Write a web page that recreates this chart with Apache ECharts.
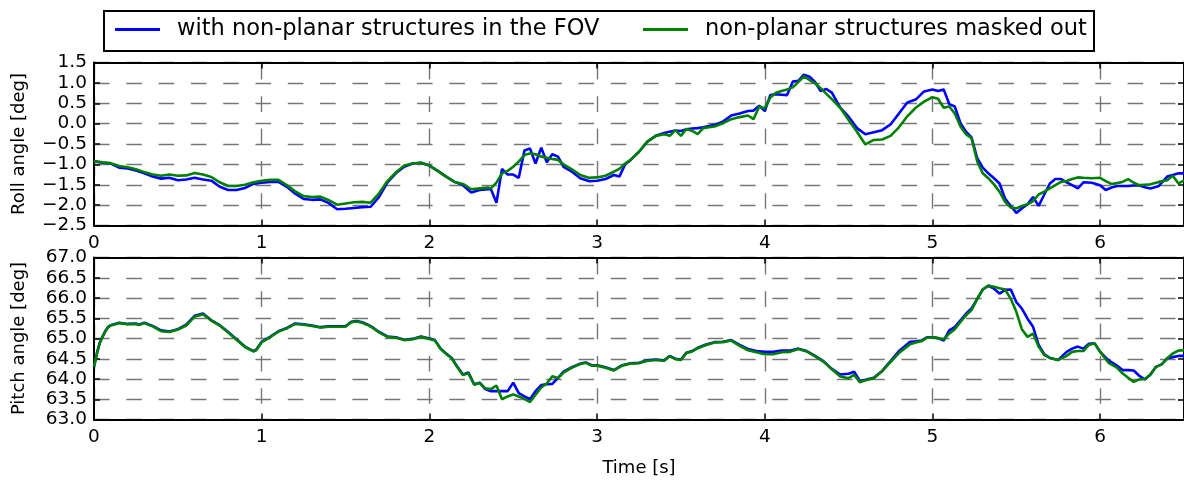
<!DOCTYPE html>
<html>
<head>
<meta charset="utf-8">
<script src="https://cdn.jsdelivr.net/npm/echarts@6/dist/echarts.min.js"></script>
<style>
  html, body { margin: 0; padding: 0; background: #fff; }
  #chart { width: 1184px; height: 481px; }
</style>
</head>
<body>
<div id="chart"></div>
<script>
// Roll angle over time, two processing variants [deg]
const rollTime = [0,0.05,0.1,0.15,0.2,0.25,0.3,0.35,0.4,0.45,0.5,0.55,0.6,0.65,0.7,0.75,0.8,0.85,0.9,0.95,1.0,1.05,1.1,1.15,1.2,1.25,1.3,1.35,1.4,1.45,1.5,1.55,1.6,1.65,1.7,1.75,1.8,1.85,1.9,1.95,2.0,2.05,2.1,2.15,2.2,2.25,2.3,2.35,2.367,2.4,2.433,2.467,2.5,2.533,2.567,2.6,2.633,2.667,2.7,2.733,2.767,2.8,2.85,2.9,2.95,3.0,3.05,3.1,3.133,3.167,3.2,3.25,3.3,3.35,3.4,3.433,3.467,3.5,3.533,3.567,3.6,3.633,3.667,3.7,3.75,3.8,3.85,3.9,3.933,3.967,4.0,4.033,4.067,4.1,4.133,4.167,4.2,4.233,4.267,4.3,4.333,4.367,4.4,4.45,4.5,4.55,4.6,4.65,4.7,4.75,4.8,4.85,4.9,4.95,5.0,5.033,5.067,5.1,5.133,5.167,5.2,5.233,5.267,5.3,5.333,5.367,5.4,5.433,5.467,5.5,5.533,5.567,5.6,5.633,5.667,5.7,5.733,5.767,5.8,5.833,5.867,5.9,5.95,6.0,6.033,6.067,6.1,6.133,6.167,6.2,6.233,6.267,6.3,6.35,6.4,6.433,6.467,6.5];
const rollWith = [-0.92,-0.96,-0.98,-1.08,-1.10,-1.15,-1.22,-1.30,-1.35,-1.33,-1.39,-1.37,-1.33,-1.37,-1.40,-1.55,-1.63,-1.63,-1.58,-1.48,-1.45,-1.43,-1.43,-1.55,-1.72,-1.85,-1.87,-1.86,-1.95,-2.10,-2.09,-2.07,-2.05,-2.04,-1.80,-1.44,-1.22,-1.06,-0.98,-0.96,-1.03,-1.16,-1.30,-1.43,-1.51,-1.69,-1.63,-1.61,-1.61,-1.94,-1.11,-1.25,-1.25,-1.33,-0.66,-0.61,-0.98,-0.59,-0.95,-0.75,-0.81,-1.06,-1.18,-1.34,-1.41,-1.40,-1.36,-1.26,-1.30,-1.00,-0.89,-0.69,-0.44,-0.30,-0.23,-0.20,-0.17,-0.18,-0.14,-0.12,-0.11,-0.09,-0.06,-0.03,0.05,0.20,0.25,0.31,0.32,0.44,0.31,0.70,0.72,0.71,0.70,1.03,1.05,1.20,1.15,1.02,0.80,0.85,0.76,0.39,0.17,-0.11,-0.26,-0.21,-0.16,-0.02,0.25,0.52,0.59,0.79,0.84,0.80,0.84,0.48,0.42,0.01,-0.20,-0.34,-0.85,-1.08,-1.22,-1.34,-1.47,-1.84,-2.02,-2.19,-2.08,-1.98,-1.80,-2.02,-1.74,-1.47,-1.36,-1.36,-1.44,-1.51,-1.59,-1.44,-1.45,-1.51,-1.63,-1.57,-1.53,-1.53,-1.53,-1.52,-1.52,-1.56,-1.59,-1.53,-1.30,-1.26,-1.22,-1.22];
const rollMasked = [-0.92,-0.95,-0.97,-1.04,-1.07,-1.12,-1.19,-1.25,-1.28,-1.25,-1.28,-1.27,-1.21,-1.25,-1.31,-1.44,-1.53,-1.53,-1.50,-1.44,-1.40,-1.38,-1.38,-1.51,-1.66,-1.78,-1.80,-1.79,-1.88,-1.99,-1.96,-1.93,-1.92,-1.94,-1.71,-1.41,-1.20,-1.03,-0.98,-0.96,-1.03,-1.16,-1.30,-1.43,-1.48,-1.61,-1.59,-1.57,-1.59,-1.45,-1.22,-1.16,-1.06,-0.93,-0.77,-0.73,-0.75,-0.81,-0.84,-0.87,-0.89,-1.00,-1.12,-1.26,-1.33,-1.32,-1.28,-1.18,-1.11,-0.98,-0.89,-0.69,-0.44,-0.30,-0.26,-0.30,-0.16,-0.30,-0.13,-0.18,-0.26,-0.11,-0.09,-0.07,0.01,0.11,0.16,0.20,0.11,0.42,0.38,0.64,0.76,0.80,0.84,0.89,1.02,1.16,1.07,0.99,0.87,0.73,0.60,0.39,0.09,-0.20,-0.51,-0.40,-0.39,-0.30,-0.09,0.18,0.39,0.54,0.65,0.61,0.39,0.42,0.25,-0.07,-0.26,-0.36,-0.93,-1.22,-1.34,-1.49,-1.67,-1.92,-2.06,-2.08,-2.02,-1.98,-1.90,-1.74,-1.67,-1.59,-1.51,-1.43,-1.41,-1.36,-1.32,-1.33,-1.34,-1.33,-1.41,-1.48,-1.46,-1.43,-1.36,-1.45,-1.51,-1.50,-1.49,-1.43,-1.39,-1.28,-1.47,-1.39];

// Pitch angle over time, two processing variants [deg]
const pitchTime = [0,0.017,0.033,0.05,0.067,0.083,0.1,0.15,0.2,0.25,0.267,0.3,0.35,0.4,0.45,0.5,0.55,0.6,0.65,0.7,0.75,0.8,0.85,0.9,0.95,0.967,1.0,1.05,1.1,1.15,1.2,1.25,1.3,1.35,1.4,1.45,1.5,1.533,1.567,1.6,1.633,1.667,1.7,1.75,1.8,1.85,1.9,1.95,2.0,2.033,2.067,2.1,2.133,2.167,2.2,2.233,2.267,2.3,2.333,2.367,2.4,2.433,2.467,2.5,2.533,2.567,2.6,2.633,2.667,2.7,2.733,2.767,2.8,2.85,2.9,2.933,2.967,3.0,3.05,3.1,3.15,3.2,3.25,3.3,3.35,3.4,3.433,3.467,3.5,3.533,3.567,3.6,3.65,3.7,3.75,3.8,3.85,3.9,3.95,4.0,4.05,4.1,4.15,4.2,4.25,4.3,4.35,4.4,4.45,4.5,4.533,4.567,4.6,4.65,4.7,4.75,4.8,4.833,4.867,4.9,4.933,4.967,5.0,5.033,5.067,5.1,5.133,5.167,5.2,5.233,5.267,5.3,5.333,5.367,5.4,5.433,5.467,5.5,5.533,5.567,5.6,5.633,5.667,5.7,5.75,5.8,5.833,5.867,5.9,5.933,5.967,6.0,6.05,6.1,6.133,6.167,6.2,6.233,6.267,6.3,6.333,6.367,6.4,6.433,6.467,6.5];
const pitchWith = [64.30,64.63,64.88,65.04,65.18,65.28,65.33,65.39,65.36,65.37,65.34,65.39,65.31,65.20,65.17,65.23,65.34,65.56,65.62,65.45,65.33,65.16,64.98,64.80,64.69,64.72,64.92,65.04,65.18,65.26,65.37,65.35,65.32,65.28,65.30,65.30,65.30,65.41,65.43,65.40,65.34,65.26,65.16,65.05,65.03,64.97,64.99,65.05,65.00,64.96,64.75,64.63,64.52,64.30,64.11,64.16,63.87,63.91,63.75,63.70,63.70,63.70,63.70,63.91,63.65,63.57,63.50,63.70,63.85,63.87,63.88,64.03,64.18,64.29,64.38,64.41,64.34,64.34,64.29,64.22,64.34,64.39,64.40,64.46,64.48,64.46,64.57,64.50,64.48,64.65,64.69,64.77,64.85,64.91,64.92,64.96,64.84,64.74,64.69,64.67,64.67,64.70,64.70,64.75,64.69,64.57,64.44,64.25,64.11,64.13,64.18,63.95,63.98,64.03,64.20,64.44,64.69,64.80,64.92,64.93,64.95,65.03,65.03,65.01,64.95,65.20,65.28,65.45,65.61,65.74,65.98,66.21,66.30,66.23,66.11,66.20,66.21,65.90,65.74,65.49,65.29,64.84,64.61,64.52,64.47,64.67,64.75,64.80,64.75,64.87,64.88,64.67,64.46,64.33,64.22,64.22,64.21,64.08,63.99,64.11,64.30,64.36,64.51,64.54,64.57,64.57];
const pitchMasked = [64.30,64.62,64.87,65.03,65.17,65.27,65.32,65.38,65.35,65.36,65.33,65.38,65.30,65.18,65.16,65.22,65.32,65.54,65.60,65.44,65.32,65.15,64.97,64.79,64.68,64.71,64.91,65.03,65.17,65.25,65.36,65.34,65.31,65.27,65.29,65.29,65.29,65.40,65.42,65.39,65.33,65.25,65.15,65.04,65.02,64.96,64.98,65.04,64.99,64.95,64.74,64.62,64.51,64.29,64.10,64.14,63.86,63.90,63.77,63.75,63.84,63.50,63.57,63.62,63.57,63.51,63.43,63.61,63.79,63.89,64.07,64.02,64.16,64.28,64.37,64.40,64.33,64.33,64.28,64.21,64.33,64.38,64.39,64.45,64.47,64.45,64.56,64.49,64.47,64.64,64.68,64.76,64.84,64.90,64.91,64.95,64.82,64.71,64.66,64.61,64.61,64.66,64.67,64.74,64.68,64.56,64.43,64.24,64.06,64.02,64.10,63.92,63.97,64.02,64.19,64.42,64.64,64.75,64.86,64.90,64.93,65.02,65.03,65.01,64.98,65.12,65.23,65.41,65.57,65.70,65.98,66.21,66.31,66.28,66.24,66.21,65.98,65.66,65.23,65.04,65.12,64.80,64.59,64.52,64.47,64.57,64.67,64.69,64.69,64.84,64.88,64.67,64.40,64.28,64.14,64.03,63.93,63.99,64.00,64.11,64.30,64.36,64.51,64.63,64.70,64.71];

const seriesNames = ['with non-planar structures in the FOV', 'non-planar structures masked out'];
const seriesColors = ['#0000ff', '#008000'];
const timeTicks = [0, 1, 2, 3, 4, 5, 6];

const FONT = 'DejaVu Sans';
const BLACK = '#000';

function pairs(t, v) { return t.map((x, i) => [x, v[i]]); }
function signed(v) { return v.toFixed(1).replace('-', '\u2212'); }

const tick = { show: true, inside: true, length: 6, lineStyle: { color: BLACK, width: 1.5 } };
const frameLine = { show: true, onZero: false, lineStyle: { color: BLACK, width: 2 } };
const labelStyle = { color: BLACK, fontFamily: FONT, fontSize: 18.5 };
const gridDash = [15.6, 16.7];
const xGrid = { show: true, lineStyle: { color: '#777777', width: 1.4, type: gridDash, dashOffset: 30.8 } };
const yGrid = { show: true, lineStyle: { color: '#777777', width: 1.4, type: gridDash } };

function timeAxis(gridIndex, position, withLabels, extra) {
  return Object.assign({
    type: 'value', gridIndex, position, min: 0, max: 6.5, interval: 1,
    axisLine: frameLine, axisTick: tick,
    axisLabel: withLabels ? Object.assign({ show: true, margin: 8, showMaxLabel: false,
      formatter: v => (timeTicks.includes(v) ? String(v) : '') }, labelStyle) : { show: false },
    splitLine: withLabels ? xGrid : { show: false }
  }, extra || {});
}

function angleAxis(gridIndex, position, min, max, withLabels, extra) {
  return Object.assign({
    type: 'value', gridIndex, position, min, max, interval: 0.5,
    axisLine: frameLine, axisTick: tick,
    axisLabel: withLabels ? Object.assign({ show: true, margin: 7, formatter: signed }, labelStyle) : { show: false },
    splitLine: withLabels ? yGrid : { show: false }
  }, extra || {});
}

const nameStyle = { color: BLACK, fontFamily: FONT, fontSize: 18 };

const option = {
  animation: false,
  backgroundColor: '#fff',
  grid: [
    { left: 94, top: 62.5, width: 1092, height: 163 },
    { left: 94, top: 257.5, width: 1092, height: 162 }
  ],
  xAxis: [
    timeAxis(0, 'bottom', true),
    timeAxis(0, 'top', false),
    timeAxis(1, 'bottom', true, { name: 'Time [s]', nameLocation: 'middle', nameGap: 40, nameTextStyle: nameStyle }),
    timeAxis(1, 'top', false)
  ],
  yAxis: [
    angleAxis(0, 'left', -2.5, 1.5, true, { name: 'Roll angle [deg]', nameLocation: 'middle', nameGap: 66, nameTextStyle: nameStyle }),
    angleAxis(0, 'right', -2.5, 1.5, false),
    angleAxis(1, 'left', 63, 67, true, { name: 'Pitch angle [deg]', nameLocation: 'middle', nameGap: 66, nameTextStyle: nameStyle }),
    angleAxis(1, 'right', 63, 67, false)
  ],
  legend: seriesNames.map((name, i) => ({
    data: [name], left: i === 0 ? 115 : 643, top: 18, padding: 0,
    icon: 'rect', itemWidth: 45, itemHeight: 3,
    textStyle: { color: BLACK, fontFamily: FONT, fontSize: 22.5, padding: [0, 0, 0, 12] },
    selectedMode: false
  })),
  graphic: [{
    type: 'rect', left: 103, top: 10, z: -1,
    shape: { width: 990, height: 40 },
    style: { fill: '#fff', stroke: BLACK, lineWidth: 2 }
  }],
  series: [
    { name: seriesNames[0], data: pairs(rollTime, rollWith), xAxisIndex: 0, yAxisIndex: 0 },
    { name: seriesNames[1], data: pairs(rollTime, rollMasked), xAxisIndex: 0, yAxisIndex: 0 },
    { name: seriesNames[0], data: pairs(pitchTime, pitchWith), xAxisIndex: 2, yAxisIndex: 2 },
    { name: seriesNames[1], data: pairs(pitchTime, pitchMasked), xAxisIndex: 2, yAxisIndex: 2 }
  ].map((s, i) => Object.assign({
    type: 'line', symbol: 'none', clip: true,
    color: seriesColors[i % 2],
    lineStyle: { color: seriesColors[i % 2], width: 2.6 }
  }, s))
};

const chart = echarts.init(document.getElementById('chart'), null, { renderer: 'canvas' });
chart.setOption(option);
</script>
</body>
</html>
